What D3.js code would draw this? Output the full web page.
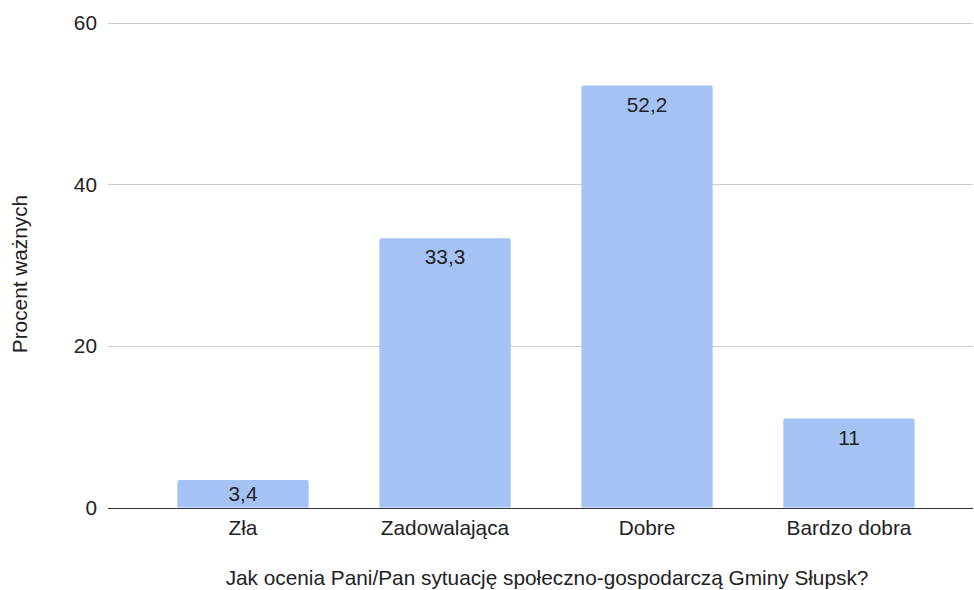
<!DOCTYPE html>
<html><head><meta charset="utf-8">
<script src="https://cdn.jsdelivr.net/npm/d3@7"></script>
<style>body{margin:0;background:#fff}svg{display:block;font-family:"Liberation Sans",Arial,sans-serif}</style>
</head><body><svg id="c" width="974" height="590"></svg>
<script>
const categories = ["Zła","Zadowalająca","Dobre","Bardzo dobra"];
const values = [3.4,33.3,52.2,11];
const valueLabels = ["3,4","33,3","52,2","11"];
const yTicks = [0,20,40,60];
const xTitle = "Jak ocenia Pani/Pan sytuację społeczno-gospodarczą Gminy Słupsk?";
const yTitle = "Procent ważnych";

const svg = d3.select("#c");
const gridLeft = 108, gridRight = 973;
const FS = 20.8;
const y = d3.scaleLinear().domain([0,60]).range([507.5,22.5]);
const x = d3.scaleBand().domain(categories).range([142,950]).paddingInner(0.35).paddingOuter(0.175);

// gridlines
svg.append("g").selectAll("line").data(yTicks.filter(d=>d>0)).join("line")
  .attr("x1",gridLeft).attr("x2",gridRight)
  .attr("y1",d=>Math.round(y(d))+0.5).attr("y2",d=>Math.round(y(d))+0.5)
  .attr("stroke","#cccccc").attr("stroke-width",1);

// y tick labels
svg.append("g").selectAll("text").data(yTicks).join("text")
  .attr("x",97).attr("y",d=>y(d)+7.5)
  .attr("text-anchor","end").attr("font-size",FS).attr("fill","#222")
  .text(d=>d);

// bars
svg.append("g").selectAll("path").data(values).join("path")
  .attr("fill","#a4c2f4")
  .attr("d",(d,i)=>{
    const x0 = x(categories[i]), w = x.bandwidth(), y0 = y(d), y1 = y(0), r = 2;
    return `M${x0},${y1}V${y0+r}Q${x0},${y0} ${x0+r},${y0}H${x0+w-r}Q${x0+w},${y0} ${x0+w},${y0+r}V${y1}Z`;
  });

// value labels
svg.append("g").selectAll("text").data(values).join("text")
  .attr("x",(d,i)=>x(categories[i])+x.bandwidth()/2)
  .attr("y",d=>Math.min(y(d)+26, (y(d)+y(0))/2+7))
  .attr("text-anchor","middle").attr("font-size",FS).attr("fill","#222")
  .text((d,i)=>valueLabels[i]);

// baseline
svg.append("line").attr("x1",gridLeft).attr("x2",gridRight)
  .attr("y1",Math.round(y(0))+0.5).attr("y2",Math.round(y(0))+0.5)
  .attr("stroke","#333").attr("stroke-width",1);

// x axis labels
svg.append("g").selectAll("text").data(categories).join("text")
  .attr("x",d=>x(d)+x.bandwidth()/2).attr("y",535)
  .attr("text-anchor","middle").attr("font-size",FS).attr("fill","#222")
  .text(d=>d);

// titles
svg.append("text").attr("x",547).attr("y",585).attr("text-anchor","middle")
  .attr("font-size",FS).attr("fill","#222").text(xTitle);
svg.append("text").attr("transform","translate(27,274) rotate(-90)").attr("text-anchor","middle")
  .attr("font-size",FS).attr("fill","#222").text(yTitle);
</script></body></html>
